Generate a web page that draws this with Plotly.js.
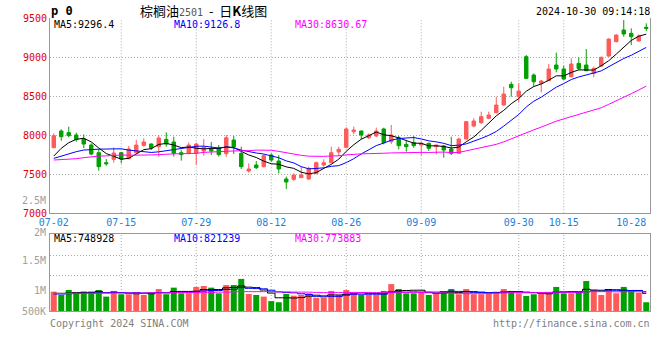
<!DOCTYPE html>
<html><head><meta charset="utf-8">
<script src="https://cdn.plot.ly/plotly-3.0.1.min.js"></script>
<style>html,body{margin:0;padding:0;background:#fff}#chart{width:660px;height:360px}</style>
</head><body><div id="chart"></div>
<script>
const dates = ['07-02','07-03','07-04','07-05','07-08','07-09','07-10','07-11','07-12','07-15','07-16','07-17','07-18','07-19','07-22','07-23','07-24','07-25','07-26','07-29','07-30','07-31',
'08-01','08-02','08-05','08-06','08-07','08-08','08-09','08-12','08-13','08-14','08-15','08-16','08-19','08-20','08-21','08-22','08-23','08-26','08-27','08-28','08-29','08-30',
'09-02','09-03','09-04','09-05','09-06','09-09','09-10','09-11','09-12','09-13','09-18','09-19','09-20','09-23','09-24','09-25','09-26','09-27','09-30',
'10-08','10-09','10-10','10-11','10-14','10-15','10-16','10-17','10-18','10-21','10-22','10-23','10-24','10-25','10-28','10-29','10-30'];

const open = [7841,8055,8034,8004,7952,7875,7777,7649,7692,7777,7700,7777,7871,7888,7854,7948,7914,7777,7769,7769,
7799,7824,7837,7765,7939,7769,7542,7619,7598,7747,7670,7440,7435,7457,7440,7512,7619,7649,7786,7846,
8046,8055,7969,7991,8081,7918,7969,7884,7905,7875,7897,7854,7863,7824,7769,7952,8119,8162,8217,8290,
8388,8653,8495,9008,8773,8666,8700,8901,8850,8751,8922,8901,8794,8888,9016,9200,9350,9307,9209,9384];
const high = [8025,8076,8111,8034,8012,7897,7820,7696,7845,7786,7863,7940,7961,7897,8004,8038,7982,7811,7910,7905,
7952,7914,7876,8004,7991,7854,7640,7670,7756,7769,7747,7470,7512,7598,7598,7662,7692,7854,7854,8102,
8111,8060,8025,8098,8098,8132,7991,7927,7991,7918,7905,7876,7876,7982,7969,8183,8217,8303,8303,8495,
8623,8687,8666,9029,8794,8709,8914,9059,8892,8986,8999,9106,8880,9008,9243,9294,9478,9371,9294,9435];
const low = [7835,7931,7975,7918,7837,7743,7546,7610,7649,7640,7692,7769,7854,7811,7726,7854,7726,7675,7756,7623,
7739,7747,7726,7726,7760,7568,7521,7568,7589,7662,7512,7311,7414,7457,7427,7499,7598,7640,7734,7833,
8012,7948,7952,7978,7884,7888,7820,7790,7841,7739,7799,7756,7713,7747,7769,7948,8102,8145,8205,8281,
8380,8495,8422,8721,8623,8550,8696,8807,8709,8743,8837,8824,8743,8880,9008,9191,9264,9157,9200,9337];
const close = [7995,7982,7995,7948,7888,7760,7598,7636,7773,7696,7824,7875,7914,7837,7965,7888,7769,7752,7875,7888,
7846,7799,7752,7969,7854,7598,7568,7585,7739,7683,7568,7401,7491,7491,7576,7649,7649,7777,7820,8081,
8068,8004,8004,8055,7905,8004,7867,7854,7867,7897,7833,7876,7811,7769,7952,8175,8183,8239,8260,8388,
8529,8610,8567,8730,8687,8696,8850,8850,8721,8914,8858,8828,8858,9000,9234,9285,9298,9264,9273,9371];

const ma5 = [7734,7833,7905,7948,7962,7915,7838,7766,7731,7693,7705,7761,7816,7829,7883,7896,7875,7842,7850,7834,
7826,7832,7832,7851,7844,7794,7748,7715,7669,7635,7629,7595,7576,7527,7505,7522,7571,7628,7694,7795,
7879,7950,7995,8042,8007,7994,7967,7937,7899,7898,7864,7865,7857,7837,7848,7917,7978,8064,8162,8249,
8320,8405,8471,8565,8625,8658,8706,8763,8761,8806,8839,8834,8836,8892,8956,9041,9135,9216,9271,9296.4];
const ma10 = [7704,7734,7769,7790,7811,7820,7822,7824,7826,7827,7810,7799,7791,7780,7788,7801,7818,7829,7840,7859,
7861,7853,7837,7850,7839,7810,7790,7773,7760,7739,7712,7672,7646,7598,7570,7575,7583,7602,7611,7650,
7700,7761,7812,7868,7901,7937,7959,7966,7971,7953,7929,7916,7897,7868,7873,7890,7922,7960,8000,8049,
8118,8192,8267,8363,8437,8489,8556,8617,8663,8715,8748,8770,8799,8826,8881,8940,8985,9026,9081,9126.8];
const ma30 = [7683,7686,7690,7700,7713,7725,7734,7736,7745,7747,7745,7744,7743,7748,7752,7760,7762,7764,7766,7769,
7781,7783,7790,7795,7799,7799,7803,7810,7811,7808,7794,7775,7758,7743,7732,7729,7730,7735,7737,7749,
7758,7762,7765,7772,7770,7774,7777,7781,7780,7781,7780,7783,7785,7778,7781,7801,7821,7843,7860,7884,
7916,7956,7992,8033,8070,8105,8145,8181,8211,8239,8265,8293,8321,8353,8397,8440,8487,8534,8581,8630.67];

const volume = [820000,680000,890000,750000,820000,820000,890000,610000,850000,710000,
710000,780000,680000,780000,930000,710000,990000,750000,750000,1020000,
1060000,990000,750000,1100000,1100000,1360000,720000,680000,610000,420000,
370000,720000,650000,680000,750000,560000,560000,850000,680000,890000,
750000,680000,680000,680000,850000,1140000,930000,750000,750000,820000,
680000,750000,820000,930000,710000,930000,710000,710000,750000,820000,
930000,850000,750000,640000,710000,780000,780000,1020000,750000,750000,
790000,1270000,890000,680000,930000,750000,1020000,880000,780000,370000];
const volMa5 = [750000,750000,760000,780000,790000,790000,830000,780000,800000,780000,
750000,730000,750000,730000,780000,780000,820000,830000,830000,840000,
910000,910000,910000,980000,1000000,1060000,1010000,990000,890000,760000,
560000,560000,550000,570000,630000,670000,640000,680000,680000,710000,
750000,770000,740000,740000,730000,810000,860000,870000,880000,880000,
790000,750000,760000,800000,780000,830000,820000,800000,760000,780000,
780000,810000,820000,800000,780000,750000,730000,790000,810000,820000,
820000,920000,890000,880000,910000,900000,850000,850000,870000,748928];
const volMa10 = [720000,720000,730000,740000,750000,760000,770000,770000,780000,780000,
770000,780000,760000,770000,780000,770000,780000,790000,780000,810000,
850000,870000,870000,910000,920000,990000,960000,950000,940000,880000,
810000,780000,770000,730000,700000,620000,600000,620000,620000,670000,
710000,710000,710000,710000,720000,780000,810000,800000,810000,800000,
800000,800000,820000,840000,830000,810000,790000,780000,780000,780000,
810000,820000,810000,780000,780000,770000,770000,800000,800000,800000,
780000,820000,840000,840000,860000,860000,890000,870000,870000,821239];
const volMa30 = [740000,740000,740000,750000,750000,750000,750000,760000,760000,760000,
760000,760000,760000,770000,770000,770000,780000,780000,780000,780000,
790000,790000,800000,800000,810000,820000,820000,820000,820000,824000,
809000,811000,803000,800000,798000,789000,778000,786000,781000,787000,
788000,785000,785000,781000,779000,793000,791000,791000,791000,784000,
772000,764000,766000,760000,747000,733000,733000,734000,738000,752000,
770000,775000,778000,777000,775000,783000,790000,796000,798000,793000,
795000,814000,821000,821000,824000,811000,814000,818000,819000,804000];

const xTickDates = ['07-02','07-15','07-29','08-12','08-26','09-09','09-30','10-15','10-28'];
const xGridDates = ['07-15','07-29','08-12','08-26','09-09','09-30','10-15'];
const priceTicks = [7000,7500,8000,8500,9000,9500];
const volGridVals = [1525000,2373000];
const volLabels = ['2.5M','2M','1.5M','1M','500K'];
const volLabelY = [200,232,260,290.5,311];

const UP = '#ff5a5a', DOWN = '#00a000';
const MONO = 'DejaVu Sans Mono, monospace';
const H = 360;
const py = px => 1 - px / H;

const traces = [
  {type:'candlestick', x:dates, open:open, high:high, low:low, close:close,
   xaxis:'x', yaxis:'y', whiskerwidth:0,
   increasing:{line:{color:UP,width:1}, fillcolor:UP},
   decreasing:{line:{color:DOWN,width:1}, fillcolor:DOWN},
   hoverinfo:'skip'},
  {type:'scatter', mode:'lines', x:dates, y:ma5, line:{color:'#000000',width:1}, xaxis:'x', yaxis:'y'},
  {type:'scatter', mode:'lines', x:dates, y:ma10, line:{color:'#0000ff',width:1}, xaxis:'x', yaxis:'y'},
  {type:'scatter', mode:'lines', x:dates, y:ma30, line:{color:'#ff00ff',width:1}, xaxis:'x', yaxis:'y'},
  {type:'bar', x:dates, y:volume, xaxis:'x2', yaxis:'y2',
   marker:{color:close.map((c,i)=> c>=open[i] ? UP : DOWN), line:{width:0}}},
  {type:'scatter', mode:'lines', x:dates, y:volMa5, line:{color:'#000000',width:1,shape:'hvh'}, xaxis:'x2', yaxis:'y2'},
  {type:'scatter', mode:'lines', x:dates, y:volMa10, line:{color:'#0000ff',width:1,shape:'hvh'}, xaxis:'x2', yaxis:'y2'},
  {type:'scatter', mode:'lines', x:dates, y:volMa30, line:{color:'#ff00ff',width:1,shape:'hvh'}, xaxis:'x2', yaxis:'y2'}
];

const gridDash = '1px,2px';
const shapes = [];
xGridDates.forEach(d => {
  shapes.push({type:'line', xref:'x', yref:'paper', x0:d, x1:d, y0:py(213.3), y1:py(18.3),
    line:{color:'#aaaaaa', width:1, dash:gridDash}, layer:'below'});
  shapes.push({type:'line', xref:'x', yref:'paper', x0:d, x1:d, y0:py(311), y1:py(234),
    line:{color:'#aaaaaa', width:1, dash:gridDash}, layer:'below'});
});

const ann = [];
function txt(text, xpx, ypx, color, size, anchor, family) {
  ann.push({text:text, xref:'paper', yref:'paper', x:(xpx-50)/600, y:py(ypx),
    xanchor:anchor||'left', yanchor:'middle', showarrow:false, borderpad:0,
    font:{family:family||MONO, size:size||10, color:color||'#000'}});
}
txt('<b>p 0</b>', 50, 10.5, '#000', 12);
txt('棕榈油<span style="font-family:DejaVu Sans Mono;font-size:10px;color:#555">2501</span>\u00a0\u00a0-\u00a0\u00a0日<b>K</b>线图', 139, 10, '#000', 13, 'left', 'Noto Sans CJK SC');
txt('2024-10-30 09:14:18', 651, 11, '#000', 10, 'right');
txt('MA5:' + ma5[ma5.length-1], 53, 24.5, '#000');
txt('MA10:' + ma10[ma10.length-1], 173, 24.5, '#0000ff');
txt('MA30:' + ma30[ma30.length-1], 294, 24.5, '#ff00ff');
txt('MA5:' + volMa5[volMa5.length-1], 53, 238.5, '#000');
txt('MA10:' + volMa10[volMa10.length-1], 173, 238.5, '#0000ff');
txt('MA30:773883', 294, 238.5, '#ff00ff');
txt('Copyright 2024 SINA.COM', 49, 323.5, '#808080');
txt('http://finance.sina.com.cn', 651, 323.5, '#808080', 10, 'right');
volLabels.forEach((l,i) => txt(l, 47, volLabelY[i], '#a0a0a0', 10, 'right'));

const layout = {
  width:660, height:360, margin:{l:50, r:10, t:0, b:0},
  paper_bgcolor:'#ffffff', plot_bgcolor:'#ffffff', showlegend:false,
  bargap:0.2, boxgap:0.35,
  xaxis:{type:'category', categoryorder:'array', categoryarray:dates, range:[-0.5, dates.length-0.5],
    anchor:'y', tickvals:xTickDates, ticktext:xTickDates, ticks:'', showgrid:false,
    showline:true, linecolor:'#999999', linewidth:1, rangeslider:{visible:false},
    tickfont:{family:MONO, size:10, color:'#1e7fd8'}, fixedrange:true},
  yaxis:{domain:[py(213.3), py(18.3)], range:[7000,9500], tickvals:priceTicks, ticks:'',
    showgrid:true, gridcolor:'#aaaaaa', griddash:gridDash, gridwidth:1, zeroline:false,
    showline:true, mirror:true, linecolor:'#999999', linewidth:1,
    tickfont:{family:MONO, size:10, color:'#e00000'}, fixedrange:true},
  xaxis2:{type:'category', matches:'x', anchor:'y2', showticklabels:false, ticks:'', showgrid:false,
    showline:true, mirror:true, linecolor:'#999999', linewidth:1, rangeslider:{visible:false}},
  yaxis2:{domain:[py(311), py(234)], range:[0,3263000], tickvals:volGridVals, showticklabels:false, ticks:'',
    showgrid:true, gridcolor:'#aaaaaa', griddash:gridDash, zeroline:false,
    showline:true, mirror:true, linecolor:'#999999', linewidth:1},
  shapes:shapes, annotations:ann
};
Plotly.newPlot('chart', traces, layout, {staticPlot:true, displayModeBar:false});
</script></body></html>
